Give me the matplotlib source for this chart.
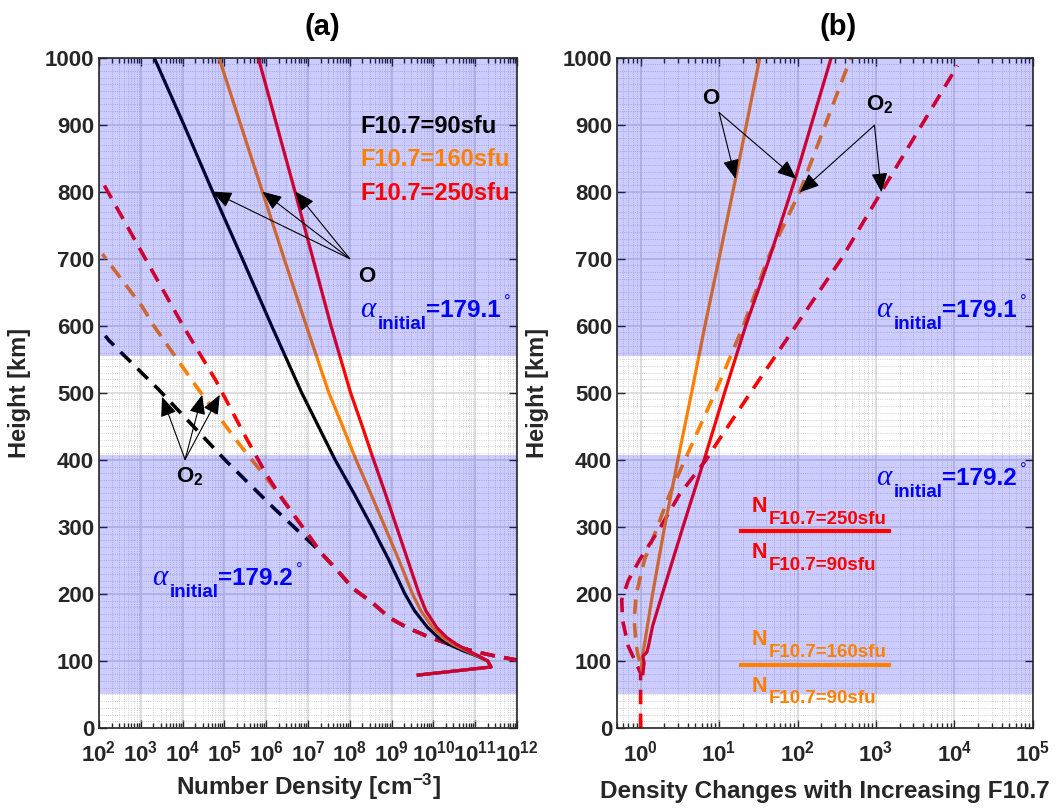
import numpy as np
import matplotlib
matplotlib.use("Agg")
import matplotlib.pyplot as plt
from matplotlib.ticker import LogLocator, MultipleLocator, NullFormatter

plt.rcParams['font.family'] = ['Liberation Sans', 'DejaVu Sans']
plt.rcParams['font.weight'] = 'bold'
plt.rcParams['mathtext.fontset'] = 'custom'
plt.rcParams['mathtext.rm'] = 'Liberation Sans:bold'
plt.rcParams['mathtext.bf'] = 'Liberation Sans:bold'
plt.rcParams['mathtext.it'] = 'Liberation Sans:bold:italic'

# ---- panel (a): number density, values are log10 [cm^-3] ----
# atomic oxygen (solid lines)
h_o = [79, 91, 100, 108, 115, 125, 135, 150, 175, 200, 250, 300, 350, 400, 450, 500,
       600, 700, 800, 900, 1000]
o_90 = [9.64, 11.38, 11.30, 11.02, 10.72, 10.36, 10.12, 9.86, 9.55, 9.32, 8.94, 8.53, 8.10,
        7.65, 7.25, 6.85, 6.13, 5.43, 4.72, 4.03, 3.32]
o_160 = [9.64, 11.38, 11.30, 11.04, 10.79, 10.46, 10.22, 9.98, 9.70, 9.50, 9.18, 8.84, 8.50,
         8.15, 7.83, 7.50, 6.96, 6.43, 5.91, 5.39, 4.87]
o_250 = [9.64, 11.38, 11.30, 11.07, 10.84, 10.55, 10.32, 10.08, 9.82, 9.66, 9.39, 9.12, 8.85,
         8.57, 8.30, 8.02, 7.55, 7.12, 6.69, 6.25, 5.81]

# molecular oxygen (dashed lines), common low-altitude part
h_o2_low = [101, 107, 114, 124, 135, 149, 164, 188, 208, 236, 260, 288]
o2_low = [12.03, 11.51, 10.99, 10.43, 9.92, 9.40, 8.96, 8.52, 8.08, 7.69, 7.33, 7.01]
h_o2_90 = [265, 330, 399, 504, 578, 585]
o2_90 = [7.26, 6.15, 5.03, 3.44, 2.24, 2.15]
h_o2_160 = [340, 385, 424, 504, 600, 628, 707]
o2_160 = [6.42, 5.85, 5.35, 4.39, 3.31, 3.04, 2.08]
h_o2_250 = [315, 340, 380, 434, 519, 600, 638, 700, 819]
o2_250 = [6.69, 6.40, 5.99, 5.51, 4.79, 4.01, 3.67, 3.11, 2.04]

# ---- panel (b): density ratio to F10.7=90sfu, log10 ----
h_ro_160 = [85, 91, 111, 131, 200, 300, 400, 500, 600, 700, 819, 1000]
ro_160 = [0.02, 0.01, 0.03, 0.058, 0.153, 0.306, 0.475, 0.65, 0.82, 1.00, 1.21, 1.52]
h_ro_250 = [81, 97, 107, 113, 122, 152, 200, 300, 400, 500, 600, 700, 819, 1000]
ro_250 = [0.03, 0.045, 0.03, 0.08, 0.10, 0.153, 0.277, 0.54, 0.81, 1.07, 1.34, 1.64, 1.97, 2.43]
h_ro2_160 = [100, 107, 122, 162, 200, 251, 300, 346, 400, 469, 500, 600, 700, 800, 1000]
ro2_160 = [-0.01, -0.03, -0.054, -0.083, -0.054, 0.05, 0.215, 0.36, 0.566, 0.83, 0.95, 1.31,
           1.62, 2.03, 2.68]
h_ro2_250 = [0, 82, 101, 122, 161, 191, 220, 251, 300, 349, 400, 430, 500, 600, 700, 800, 988]
ro2_250 = [0.0, 0.0, -0.074, -0.157, -0.23, -0.24, -0.157, -0.012, 0.256, 0.50, 0.835, 1.0,
           1.40, 1.98, 2.56, 3.07, 4.04]

# shaded height ranges [km]
bands = [(50, 407), (555, 1000)]

BLACK, ORANGE, RED, BLUE = '#000000', '#FF8000', '#FF0000', '#0000FF'
ARROW = dict(arrowstyle='-|>,head_length=0.6,head_width=0.25', mutation_scale=20,
             lw=0.8, color='k', shrinkA=0, shrinkB=0)


def setup_axes(ax, decades, xlim, xlabel, xlabel_y):
    ax.set_xscale('log')
    ax.set_xlim(*xlim)
    ax.set_ylim(0, 1000)
    ax.set_xticks([10.0 ** k for k in decades])
    ax.set_xticklabels([r'$\mathbf{10^{%d}}$' % k for k in decades])
    ax.xaxis.set_minor_locator(LogLocator(base=10, subs=np.arange(2, 10), numticks=100))
    ax.xaxis.set_minor_formatter(NullFormatter())
    ax.set_yticks(np.arange(0, 1001, 100))
    ax.yaxis.set_minor_locator(MultipleLocator(10))
    ax.tick_params(which='both', direction='in', top=True, right=True, colors='#262626',
                   labelcolor='#262626', width=1.0)
    ax.tick_params(which='major', length=6, labelsize=16)
    ax.tick_params(axis='x', which='major', pad=9)
    ax.tick_params(axis='x', which='minor', length=3.5)
    ax.tick_params(axis='y', which='minor', length=0)
    ax.grid(which='major', color='#d8d8d8', lw=1.2)
    ax.grid(which='minor', color='#c4c4c4', ls=':', lw=0.6)
    ax.set_axisbelow(True)
    for s in ax.spines.values():
        s.set_color('#262626')
        s.set_linewidth(1.2)
    for lo, hi in bands:
        ax.axhspan(lo, hi, color=BLUE, alpha=0.2, lw=0, zorder=2.5)
    ax.set_ylabel('Height [km]', fontsize=17, fontweight='bold', color='#262626')
    ax.yaxis.set_label_coords(-0.163, 0.5)
    ax.set_xlabel(xlabel, fontsize=17.5, fontweight='bold', color='#262626')
    ax.xaxis.set_label_coords(0.5, xlabel_y)


def alpha_label(ax, x, y, value):
    kw = dict(xy=(x, y), xycoords='data', textcoords='offset points',
              ha='left', va='baseline', color=BLUE, zorder=5)
    ax.annotate('\u03b1', xytext=(0, 0), fontsize=21, family='Liberation Serif',
                style='italic', fontweight='normal', **kw)
    ax.annotate('initial', xytext=(12.7, -8.4), fontsize=13.5, fontweight='bold', **kw)
    ax.annotate('=' + value, xytext=(47.5, 0), fontsize=17.5, fontweight='bold', **kw)
    ax.annotate('\u00b0', xytext=(103.5, 7.5), fontsize=12, fontweight='normal', **kw)


fig = plt.figure(figsize=(10.63, 8.08), dpi=100)
ax1 = fig.add_axes([0.0931, 0.099, 0.3932, 0.8298])
ax2 = fig.add_axes([0.5804, 0.099, 0.3913, 0.8298])

# ---------------- panel (a) ----------------
setup_axes(ax1, range(2, 13), (1e2, 1e12), r'Number Density [cm$^{\mathbf{-3}}$]', -0.066)
# number of shared low-altitude points used by each O2 curve
for h, v, c, n_low in [(h_o2_90, o2_90, BLACK, 11), (h_o2_160, o2_160, ORANGE, 12),
                       (h_o2_250, o2_250, RED, 12)]:
    hh = h_o2_low[:n_low] + h
    vv = o2_low[:n_low] + v
    ax1.plot(10.0 ** np.array(vv), hh, color=c, lw=2.6, dashes=(4, 2.6), zorder=2)
for h, v, c in [(h_o, o_90, BLACK), (h_o, o_160, ORANGE), (h_o, o_250, RED)]:
    ax1.plot(10.0 ** np.array(v), h, color=c, lw=2.3, zorder=2)

for txt, yb, c in [('F10.7=90sfu', 887, BLACK), ('F10.7=160sfu', 838.7, ORANGE),
                   ('F10.7=250sfu', 787, RED)]:
    ax1.text(10 ** 8.244, yb, txt, color=c, fontsize=17, fontweight='bold',
             ha='left', va='baseline', zorder=5)

ax1.text(10 ** 8.2, 664.7, 'O', fontsize=16, fontweight='bold', ha='left', va='baseline', zorder=5)
for hx in [4.71, 5.91, 6.70]:
    ax1.annotate('', xy=(10 ** hx, 800), xytext=(1e8, 700), arrowprops=ARROW, zorder=5)

ax1.text(10 ** 3.85, 367, r'O$_{\mathbf{2}}$', fontsize=16, fontweight='bold',
         ha='left', va='baseline', zorder=5)
for hx, hy in [(3.51, 494), (4.47, 497), (4.89, 497)]:
    ax1.annotate('', xy=(10 ** hx, hy), xytext=(10 ** 4.06, 400.5), arrowprops=ARROW, zorder=5)

alpha_label(ax1, 10 ** 8.244, 613, '179.1')
alpha_label(ax1, 10 ** 3.275, 213, '179.2')

# ---------------- panel (b) ----------------
setup_axes(ax2, range(0, 6), (0.5, 1e5), 'Density Changes with Increasing F10.7', -0.078)
ax2.plot(10.0 ** np.array(ro2_160), h_ro2_160, color=ORANGE, lw=2.6, dashes=(4, 2.6), zorder=2)
ax2.plot(10.0 ** np.array(ro2_250), h_ro2_250, color=RED, lw=2.6, dashes=(4, 2.6), zorder=2)
ax2.plot(10.0 ** np.array(ro_160), h_ro_160, color=ORANGE, lw=2.3, zorder=2)
ax2.plot(10.0 ** np.array(ro_250), h_ro_250, color=RED, lw=2.3, zorder=2)

ax2.text(10 ** 0.789, 930, 'O', fontsize=16, fontweight='bold', ha='left', va='baseline', zorder=5)
for hx in [1.21, 1.985]:
    ax2.annotate('', xy=(10 ** hx, 819), xytext=(10 ** 1.0, 918), arrowprops=ARROW, zorder=5)
ax2.text(10 ** 2.875, 921, r'O$_{\mathbf{2}}$', fontsize=16, fontweight='bold',
         ha='left', va='baseline', zorder=5)
for hx in [2.03, 3.07]:
    ax2.annotate('', xy=(10 ** hx, 799), xytext=(10 ** 2.98, 899), arrowprops=ARROW, zorder=5)

alpha_label(ax2, 10 ** 3.0, 613, '179.1')
alpha_label(ax2, 10 ** 3.0, 362, '179.2')

# ratio labels
for c, top, bot, yline, ybase in [(RED, '250', '90', 294, 322.5), (ORANGE, '160', '90', 94, 123.7)]:
    ax2.plot([10 ** 1.285, 10 ** 3.17], [yline, yline], color=c, lw=3, zorder=4)
    for sub, yb in [(top, ybase), (bot, ybase - 69.5)]:
        ax2.text(10 ** 1.412, yb, 'N', color=c, fontsize=15.5, fontweight='bold',
                 ha='left', va='baseline', zorder=5)
        ax2.text(10 ** 1.636, yb - 17.5, 'F10.7=%ssfu' % sub, color=c, fontsize=13.5,
                 fontweight='bold', ha='left', va='baseline', zorder=5)

fig.text(322 / 1063, 1 - 27 / 808, '(a)', ha='center', va='center', fontsize=21, fontweight='bold')
fig.text(838 / 1063, 1 - 27 / 808, '(b)', ha='center', va='center', fontsize=21, fontweight='bold')

fig.savefig('out.png', dpi=100)
